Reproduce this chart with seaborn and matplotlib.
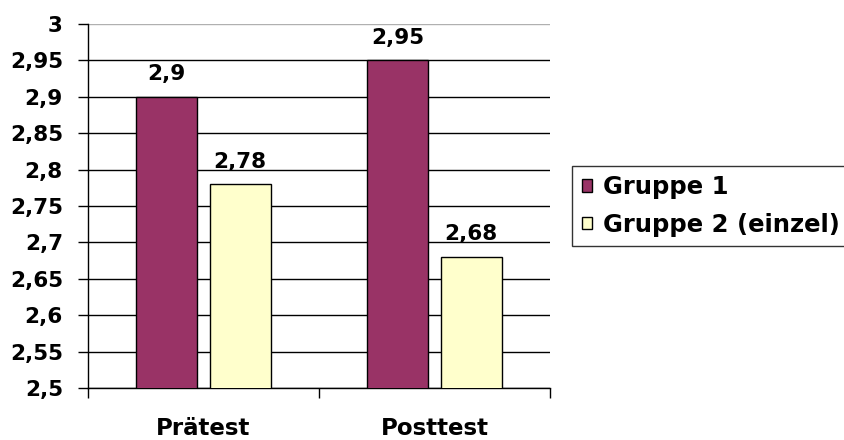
import matplotlib
matplotlib.use("Agg")
import matplotlib.pyplot as plt
import seaborn as sns
import pandas as pd
from matplotlib.ticker import FixedLocator, FuncFormatter

categories = ["Prätest", "Posttest"]
groups = ["Gruppe 1", "Gruppe 2 (einzel)"]
gruppe1 = [2.90, 2.95]
gruppe2 = [2.78, 2.68]
yticks = [2.5, 2.55, 2.6, 2.65, 2.7, 2.75, 2.8, 2.85, 2.9, 2.95, 3.0]

df = pd.DataFrame({
    "Test": categories * 2,
    "Gruppe": [groups[0]] * 2 + [groups[1]] * 2,
    "Wert": gruppe1 + gruppe2,
})


def de_num(v):
    return f"{v:g}".replace(".", ",")


sns.set_theme(style="white")
plt.rcParams["font.family"] = ["DejaVu Sans"]
plt.rcParams["font.weight"] = "bold"

fig = plt.figure(figsize=(8.45, 4.4), dpi=100)
ax = fig.add_axes([88 / 845, 1 - 388 / 440, 462 / 845, (388 - 24) / 440])

palette = ["#993366", "#FFFFCC"]
sns.barplot(data=df, x="Test", y="Wert", hue="Gruppe", order=categories,
            hue_order=groups, palette=palette, width=0.635, edgecolor="black",
            linewidth=1.0, saturation=1, legend=True, ax=ax, zorder=3)

# narrow the bars around their centers to leave a small gap between them
for p in ax.patches:
    w = p.get_width()
    if w > 0:
        new_w = 0.265
        p.set_x(p.get_x() + (w - new_w) / 2)
        p.set_width(new_w)

ax.set_ylim(2.5, 3.0)
ax.set_xlim(-0.5, 1.5)
ax.yaxis.set_major_locator(FixedLocator(yticks))
ax.yaxis.set_major_formatter(FuncFormatter(lambda v, _: de_num(v)))
ax.yaxis.grid(True, color="black", linewidth=1.0, zorder=0)
ax.set_axisbelow(True)
ax.get_ygridlines()[-1].set_color("#b0b0b0")

ax.set_xlabel("")
ax.set_ylabel("")
for s in ["top", "right"]:
    ax.spines[s].set_visible(False)
for s in ["left", "bottom"]:
    ax.spines[s].set_color("black")
    ax.spines[s].set_linewidth(1.0)

ax.tick_params(axis="y", left=True, length=7, width=1, color="black",
               labelsize=15.5, pad=11, labelcolor="black")
ax.tick_params(axis="x", which="major", bottom=False, labelsize=16.5, pad=15,
               labelcolor="black")
ax.xaxis.set_minor_locator(FixedLocator([-0.5, 0.5, 1.5]))
ax.tick_params(axis="x", which="minor", bottom=True, length=7, width=1,
               color="black")
for lab in ax.get_xticklabels() + ax.get_yticklabels():
    lab.set_fontweight("bold")

for cont in ax.containers:
    ax.bar_label(cont, labels=[de_num(v) for v in cont.datavalues],
                 padding=9, fontsize=15.5, fontweight="bold", color="black")

handles, labels = ax.get_legend_handles_labels()
ax.legend_.remove()
leg = fig.legend(handles, labels, loc="center left",
                 bbox_to_anchor=(572 / 845, 1 - 206 / 440),
                 frameon=True, fancybox=False, edgecolor="black",
                 prop={"size": 17.5, "weight": "bold"},
                 handlelength=0.42, handleheight=0.42, handletextpad=0.45,
                 borderpad=0.4, labelspacing=0.55, borderaxespad=0)
leg.get_frame().set_linewidth(1.0)
for t in leg.get_texts():
    t.set_color("black")

fig.savefig("out.png", dpi=100)
